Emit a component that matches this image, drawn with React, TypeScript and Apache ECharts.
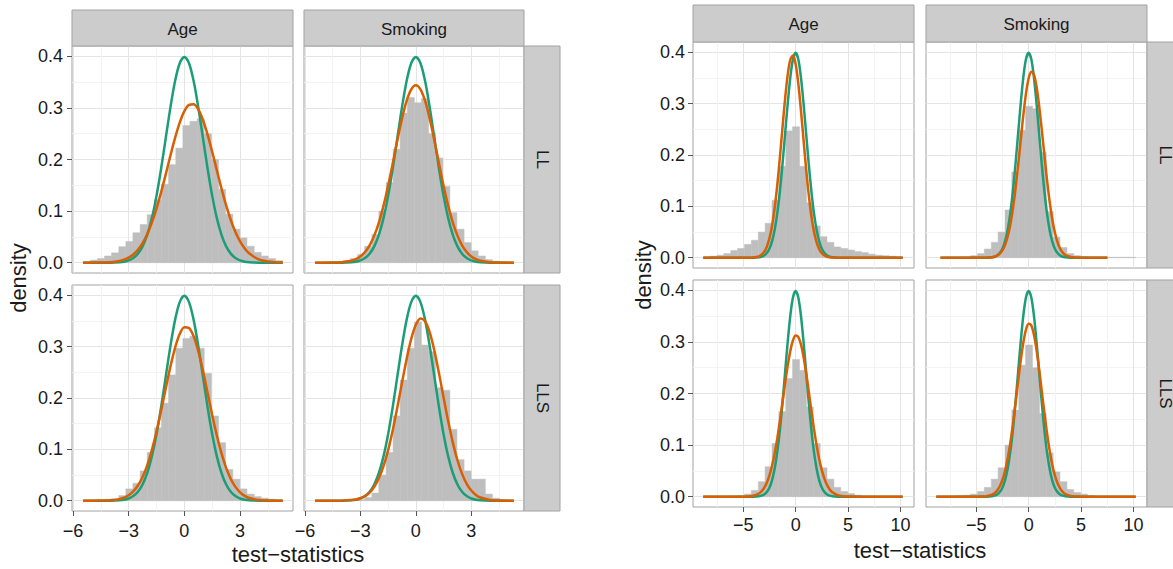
import React, { useEffect, useRef } from 'react';
import * as echarts from 'echarts';

// ---------- data ----------
const FACET_COLS = ['Age', 'Smoking'];
const FACET_ROWS = ['LL', 'LLS'];
const X_TITLE = 'test\u2212statistics';
const Y_TITLE = 'density';

const LEFT_X_TICKS = [-6, -3, 0, 3];
const RIGHT_X_TICKS = [-5, 0, 5, 10];
const Y_TICKS = [0, 0.1, 0.2, 0.3, 0.4];

// histogram bin edges
const LEFT_EDGES = [-5.45, -5.07, -4.68, -4.3, -3.92, -3.53, -3.15, -2.77, -2.38, -2.0, -1.61, -1.23, -0.85, -0.46, -0.08, 0.3, 0.69, 1.07, 1.46, 1.84, 2.22, 2.61, 2.99, 3.37, 3.76, 4.14, 4.52, 4.91, 5.29];
const RIGHT_EDGES = [-8.8, -8.15, -7.49, -6.84, -6.18, -5.53, -4.87, -4.22, -3.56, -2.91, -2.25, -1.6, -0.94, -0.29, 0.37, 1.03, 1.68, 2.34, 2.99, 3.65, 4.3, 4.96, 5.61, 6.27, 6.92, 7.58, 8.23, 8.89, 9.54, 10.2];

// histogram densities (left figure)
const L_AGE_LL = [0.002, 0.005, 0.008, 0.013, 0.019, 0.031, 0.041, 0.058, 0.074, 0.093, 0.122, 0.152, 0.19, 0.222, 0.266, 0.274, 0.279, 0.25, 0.2, 0.142, 0.094, 0.065, 0.048, 0.032, 0.02, 0.013, 0.008, 0.004];
const L_SMK_LL = [0, 0.0005, 0.001, 0.002, 0.004, 0.008, 0.016, 0.032, 0.055, 0.1, 0.155, 0.22, 0.29, 0.32, 0.31, 0.318, 0.25, 0.203, 0.148, 0.097, 0.065, 0.039, 0.023, 0.013, 0.006, 0.003, 0.001, 0.0005];
const L_AGE_LLS = [0, 0.0005, 0.001, 0.002, 0.004, 0.01, 0.023, 0.034, 0.058, 0.094, 0.142, 0.19, 0.245, 0.297, 0.316, 0.32, 0.297, 0.248, 0.165, 0.113, 0.061, 0.042, 0.023, 0.013, 0.008, 0.005, 0.003, 0.001];
const L_SMK_LLS = [0, 0, 0, 0, 0.0005, 0.001, 0.002, 0.006, 0.015, 0.05, 0.094, 0.165, 0.235, 0.297, 0.348, 0.303, 0.29, 0.22, 0.215, 0.139, 0.08, 0.058, 0.042, 0.042, 0.013, 0.005, 0.002, 0.0005];

// histogram densities (right figure)
const R_AGE_LL = [0.001, 0.003, 0.005, 0.008, 0.014, 0.018, 0.026, 0.034, 0.05, 0.067, 0.112, 0.178, 0.247, 0.255, 0.178, 0.107, 0.062, 0.041, 0.03, 0.021, 0.018, 0.015, 0.012, 0.01, 0.007, 0.005, 0.004, 0.003, 0.001];
const R_SMK_LL = [0, 0, 0, 0, 0.001, 0.004, 0.008, 0.017, 0.03, 0.05, 0.093, 0.167, 0.248, 0.295, 0.29, 0.205, 0.09, 0.04, 0.02, 0.008, 0.004, 0.002, 0.001, 0.001, 0.001, 0.001, 0.001, 0.001, 0.001];
const R_AGE_LLS = [0, 0, 0, 0, 0.001, 0.002, 0.005, 0.012, 0.029, 0.058, 0.103, 0.165, 0.229, 0.266, 0.245, 0.174, 0.103, 0.056, 0.034, 0.018, 0.01, 0.006, 0.003, 0.001, 0, 0, 0, 0, 0];
const R_SMK_LLS = [0, 0.001, 0.001, 0.002, 0.003, 0.005, 0.01, 0.018, 0.034, 0.056, 0.1, 0.168, 0.255, 0.294, 0.25, 0.161, 0.085, 0.048, 0.029, 0.014, 0.008, 0.005, 0.002, 0, 0, 0, 0, 0, 0];

// density curves, left figure (x positions and values)
const LX = [-5.45, -5, -4.5, -4, -3.5, -3.25, -3, -2.75, -2.5, -2.25, -2, -1.75, -1.5, -1.25, -1, -0.75, -0.5, -0.25, 0, 0.25, 0.5, 0.75, 1, 1.25, 1.5, 1.75, 2, 2.25, 2.5, 2.75, 3, 3.25, 3.5, 4, 4.5, 5, 5.3];
const L_NORMAL = [0, 0, 0, 0.0001, 0.0009, 0.002, 0.0044, 0.0091, 0.0175, 0.0317, 0.054, 0.0863, 0.1295, 0.1826, 0.242, 0.3011, 0.3521, 0.3867, 0.3989, 0.3867, 0.3521, 0.3011, 0.242, 0.1826, 0.1295, 0.0863, 0.054, 0.0317, 0.0175, 0.0091, 0.0044, 0.002, 0.0009, 0.0001, 0, 0, 0];
const L_AGE_LL_FIT = [0, 0.0001, 0.0002, 0.001, 0.0033, 0.0058, 0.0098, 0.016, 0.0251, 0.0379, 0.0553, 0.0776, 0.105, 0.1368, 0.1717, 0.2077, 0.2419, 0.2715, 0.2937, 0.306, 0.307, 0.297, 0.2766, 0.2483, 0.2147, 0.1789, 0.1436, 0.111, 0.0827, 0.0594, 0.0411, 0.0274, 0.0176, 0.0065, 0.0021, 0.0006, 0.0002];
const L_SMK_LL_FIT = [0, 0, 0.0002, 0.0009, 0.0036, 0.0068, 0.0121, 0.0207, 0.0337, 0.0524, 0.0778, 0.1102, 0.149, 0.1924, 0.2372, 0.279, 0.3134, 0.336, 0.3439, 0.336, 0.3134, 0.279, 0.2372, 0.1924, 0.149, 0.1102, 0.0778, 0.0524, 0.0337, 0.0207, 0.0121, 0.0068, 0.0036, 0.0009, 0.0002, 0, 0];
const L_AGE_LLS_FIT = [0, 0, 0.0002, 0.0008, 0.0031, 0.0059, 0.0106, 0.0181, 0.0296, 0.0462, 0.069, 0.0986, 0.1346, 0.1756, 0.219, 0.2612, 0.2977, 0.3244, 0.3378, 0.3363, 0.32, 0.2911, 0.2531, 0.2104, 0.1671, 0.1269, 0.0921, 0.0639, 0.0424, 0.0269, 0.0163, 0.0094, 0.0052, 0.0014, 0.0003, 0.0001, 0];
const L_SMK_LLS_FIT = [0, 0, 0, 0.0002, 0.0012, 0.0024, 0.0048, 0.0089, 0.0159, 0.0271, 0.0438, 0.0673, 0.0985, 0.1372, 0.1819, 0.2295, 0.2756, 0.315, 0.3426, 0.355, 0.3494, 0.3277, 0.2924, 0.2484, 0.2008, 0.1545, 0.1131, 0.0788, 0.0523, 0.033, 0.0198, 0.0113, 0.0062, 0.0016, 0.0003, 0.0001, 0];

// density curves, right figure
const RX = [-8.8, -8.4, -8, -7, -6, -5, -4.5, -4, -3.5, -3.25, -3, -2.75, -2.5, -2.25, -2, -1.75, -1.5, -1.25, -1, -0.75, -0.5, -0.25, 0, 0.25, 0.5, 0.75, 1, 1.25, 1.5, 1.75, 2, 2.25, 2.5, 2.75, 3, 3.25, 3.5, 4, 4.5, 5, 6, 7, 7.5, 8, 9, 10, 10.2];
const R_NORMAL = [0, 0, 0, 0, 0, 0, 0, 0.0001, 0.0009, 0.002, 0.0044, 0.0091, 0.0175, 0.0317, 0.054, 0.0863, 0.1295, 0.1826, 0.242, 0.3011, 0.3521, 0.3867, 0.3989, 0.3867, 0.3521, 0.3011, 0.242, 0.1826, 0.1295, 0.0863, 0.054, 0.0317, 0.0175, 0.0091, 0.0044, 0.002, 0.0009, 0.0001, 0, 0, 0, 0, 0, 0, 0, 0, 0];
const R_AGE_LL_FIT = [0, 0, 0, 0, 0, 0, 0.0001, 0.0005, 0.0027, 0.0057, 0.0113, 0.0212, 0.0373, 0.0618, 0.0964, 0.1414, 0.1953, 0.2539, 0.3103, 0.357, 0.3864, 0.3935, 0.377, 0.34, 0.2885, 0.2303, 0.1729, 0.1222, 0.0813, 0.0508, 0.0299, 0.0166, 0.0086, 0.0042, 0.002, 0.0008, 0.0003, 0, 0, 0, 0, 0, 0, 0, 0, 0, 0];
const R_SMK_LL_FIT = [null, 0, 0, 0, 0, 0, 0, 0.0002, 0.0009, 0.002, 0.004, 0.0078, 0.0142, 0.0247, 0.0408, 0.0639, 0.0951, 0.1344, 0.1804, 0.23, 0.2784, 0.3201, 0.3495, 0.3623, 0.3568, 0.3336, 0.2962, 0.2498, 0.2001, 0.1522, 0.1099, 0.0754, 0.0491, 0.0304, 0.0178, 0.0099, 0.0053, 0.0013, 0.0002, 0, 0, 0, 0, null, null, null, null];
const R_AGE_LLS_FIT = [0, 0, 0, 0, 0, 0.0001, 0.0005, 0.0019, 0.0062, 0.0105, 0.0172, 0.0271, 0.041, 0.0598, 0.0838, 0.113, 0.1466, 0.1831, 0.22, 0.2545, 0.2831, 0.3032, 0.3124, 0.3098, 0.2956, 0.2714, 0.2398, 0.2039, 0.1668, 0.1314, 0.0995, 0.0725, 0.0509, 0.0344, 0.0223, 0.014, 0.0084, 0.0027, 0.0007, 0.0002, 0, 0, 0, 0, 0, 0, 0];
const R_SMK_LLS_FIT = [0, 0, 0, 0, 0, 0, 0.0002, 0.001, 0.0037, 0.0068, 0.0119, 0.0201, 0.0323, 0.0499, 0.0736, 0.1039, 0.1402, 0.1811, 0.2238, 0.2646, 0.2993, 0.3238, 0.3352, 0.332, 0.3145, 0.2851, 0.2472, 0.205, 0.1627, 0.1235, 0.0897, 0.0624, 0.0414, 0.0264, 0.016, 0.0093, 0.0052, 0.0014, 0.0003, 0.0001, 0, 0, 0, 0, 0, 0, 0];

// ---------- styling / layout ----------
const FONT = '"Liberation Sans", Arial, Helvetica, sans-serif';
const GREEN = '#1b9e77';
const ORANGE = '#d95f02';
const HIST = '#bebebe';
const BORDER = '#a2a2a2';
const STRIP_FILL = '#cccccc';
const TEXT = '#1a1a1a';

const FIGS = [
  {
    edges: LEFT_EDGES, xs: LX, normal: L_NORMAL, xMin: -6.05, xMax: 5.85, xTicks: LEFT_X_TICKS,
    colLeft: [72, 304], colWidth: [221, 220], rowTop: [46, 285], rowHeight: [227, 226],
    stripTop: 10, titleX: 298, titleY: 554, densX: 18, densY: 278, xMargin: 11, yMargin: 9,
  },
  {
    edges: RIGHT_EDGES, xs: RX, normal: R_NORMAL, xMin: -9.78, xMax: 11.28, xTicks: RIGHT_X_TICKS,
    colLeft: [693, 926], colWidth: [221, 221], rowTop: [42, 280], rowHeight: [226, 227],
    stripTop: 5, titleX: 920, titleY: 550, densX: 643, densY: 275, xMargin: 9, yMargin: 8,
  },
];

const PANELS = [
  { fig: 0, col: 0, row: 0, hist: L_AGE_LL, fit: L_AGE_LL_FIT },
  { fig: 0, col: 1, row: 0, hist: L_SMK_LL, fit: L_SMK_LL_FIT },
  { fig: 0, col: 0, row: 1, hist: L_AGE_LLS, fit: L_AGE_LLS_FIT },
  { fig: 0, col: 1, row: 1, hist: L_SMK_LLS, fit: L_SMK_LLS_FIT },
  { fig: 1, col: 0, row: 0, hist: R_AGE_LL, fit: R_AGE_LL_FIT },
  { fig: 1, col: 1, row: 0, hist: R_SMK_LL, fit: R_SMK_LL_FIT, range: [-8.4, 7.5] },
  { fig: 1, col: 0, row: 1, hist: R_AGE_LLS, fit: R_AGE_LLS_FIT },
  { fig: 1, col: 1, row: 1, hist: R_SMK_LLS, fit: R_SMK_LLS_FIT },
];

const fmtX = (v: number) => (v < 0 ? '\u2212' + Math.abs(v) : String(v));

function curvePoints(xs: number[], ys: (number | null)[], range?: number[]) {
  const out: number[][] = [];
  xs.forEach((x, k) => {
    const y = ys[k];
    if (y === null || y === undefined) return;
    if (range && (x < range[0] || x > range[1])) return;
    out.push([x, y]);
  });
  return out;
}

const renderBar = (_params: any, api: any) => {
  const h = api.value(2);
  if (!(h > 0)) return null;
  const a = api.coord([api.value(0), h]);
  const b = api.coord([api.value(1), 0]);
  return {
    type: 'rect',
    shape: { x: a[0], y: a[1], width: b[0] - a[0], height: b[1] - a[1] },
    style: { fill: HIST, stroke: HIST, lineWidth: 0.5 },
  };
};

function buildOption() {
  const grid: any[] = [];
  const xAxis: any[] = [];
  const yAxis: any[] = [];
  const series: any[] = [];
  const graphic: any[] = [];

  PANELS.forEach((p, i) => {
    const f = FIGS[p.fig];
    const left = f.colLeft[p.col];
    const top = f.rowTop[p.row];
    const width = f.colWidth[p.col];
    const height = f.rowHeight[p.row];
    grid.push({
      left, top, width, height, show: true, backgroundColor: '#ffffff',
      borderColor: BORDER, borderWidth: 1, containLabel: false, outerBoundsMode: 'none',
    });
    const showX = p.row === 1;
    const showY = p.col === 0;
    xAxis.push({
      type: 'value', gridIndex: i, min: f.xMin, max: f.xMax, splitNumber: 4, position: 'bottom',
      axisLine: { show: false, onZero: false },
      axisTick: { show: showX, length: 5, lineStyle: { color: '#555555', width: 1 }, customValues: f.xTicks },
      axisLabel: {
        show: showX, customValues: f.xTicks, formatter: fmtX, margin: f.xMargin,
        fontSize: 18, color: TEXT, fontFamily: FONT,
      },
      splitLine: { show: true, lineStyle: { color: '#e4e4e4', width: 1 } },
      minorTick: { show: false, splitNumber: 2 },
      minorSplitLine: { show: true, lineStyle: { color: '#f3f3f3', width: 1 } },
    });
    yAxis.push({
      type: 'value', gridIndex: i, min: -0.02, max: 0.42, splitNumber: 5, position: 'left',
      axisLine: { show: false, onZero: false },
      axisTick: { show: showY, length: 5, lineStyle: { color: '#555555', width: 1 }, customValues: Y_TICKS },
      axisLabel: {
        show: showY, customValues: Y_TICKS, formatter: (v: number) => v.toFixed(1), margin: f.yMargin,
        fontSize: 18, color: TEXT, fontFamily: FONT,
      },
      splitLine: { show: true, lineStyle: { color: '#e4e4e4', width: 1 } },
      minorTick: { show: false, splitNumber: 2 },
      minorSplitLine: { show: true, lineStyle: { color: '#f3f3f3', width: 1 } },
    });

    series.push({
      type: 'custom', xAxisIndex: i, yAxisIndex: i, renderItem: renderBar,
      dimensions: ['x0', 'x1', 'density'],
      encode: { x: [0, 1], y: 2 },
      data: p.hist.map((h, k) => [f.edges[k], f.edges[k + 1], h]),
      clip: true, silent: true, z: 1,
    });
    series.push({
      type: 'line', xAxisIndex: i, yAxisIndex: i, data: curvePoints(f.xs, f.normal, p.range),
      symbol: 'none', showSymbol: false, smooth: 0.3, clip: true, silent: true, z: 2,
      lineStyle: { color: GREEN, width: 2.5 }, itemStyle: { color: GREEN },
    });
    series.push({
      type: 'line', xAxisIndex: i, yAxisIndex: i, data: curvePoints(f.xs, p.fit, p.range),
      symbol: 'none', showSymbol: false, smooth: 0.3, clip: true, silent: true, z: 3,
      lineStyle: { color: ORANGE, width: 2.5 }, itemStyle: { color: ORANGE },
    });

    // top strip
    if (p.row === 0) {
      const sh = top - f.stripTop;
      graphic.push({
        type: 'rect', shape: { x: left, y: f.stripTop, width, height: sh },
        style: { fill: STRIP_FILL, stroke: BORDER, lineWidth: 1 }, z: 10,
      });
      graphic.push({
        type: 'text', x: left + width / 2, y: f.stripTop + sh / 2 + 1, z: 11,
        style: { text: FACET_COLS[p.col], fontSize: 17, fontFamily: FONT, fill: TEXT, align: 'center', verticalAlign: 'middle' },
      });
    }
    // right strip
    if (p.col === 1) {
      const sx = left + width;
      graphic.push({
        type: 'rect', shape: { x: sx, y: top, width: 36, height },
        style: { fill: STRIP_FILL, stroke: BORDER, lineWidth: 1 }, z: 10,
      });
      graphic.push({
        type: 'text', x: sx + 18, y: top + height / 2, rotation: -Math.PI / 2, z: 11,
        style: { text: FACET_ROWS[p.row], fontSize: 17, fontFamily: FONT, fill: TEXT, align: 'center', verticalAlign: 'middle' },
      });
    }
  });

  FIGS.forEach((f) => {
    graphic.push({
      type: 'text', x: f.titleX, y: f.titleY, z: 11,
      style: { text: X_TITLE, fontSize: 22, fontFamily: FONT, fill: TEXT, align: 'center', verticalAlign: 'middle' },
    });
    graphic.push({
      type: 'text', x: f.densX, y: f.densY, rotation: Math.PI / 2, z: 11,
      style: { text: Y_TITLE, fontSize: 22, fontFamily: FONT, fill: TEXT, align: 'center', verticalAlign: 'middle' },
    });
  });

  return {
    animation: false,
    backgroundColor: '#ffffff',
    grid, xAxis, yAxis, series, graphic,
  };
}

export default function App() {
  const ref = useRef<HTMLDivElement>(null);
  useEffect(() => {
    document.body.style.margin = '0';
    if (!ref.current) return;
    const chart = echarts.init(ref.current, null, { renderer: 'svg' });
    chart.setOption(buildOption() as any);
    return () => chart.dispose();
  }, []);
  return <div ref={ref} style={{ width: 1173, height: 569 }} />;
}
